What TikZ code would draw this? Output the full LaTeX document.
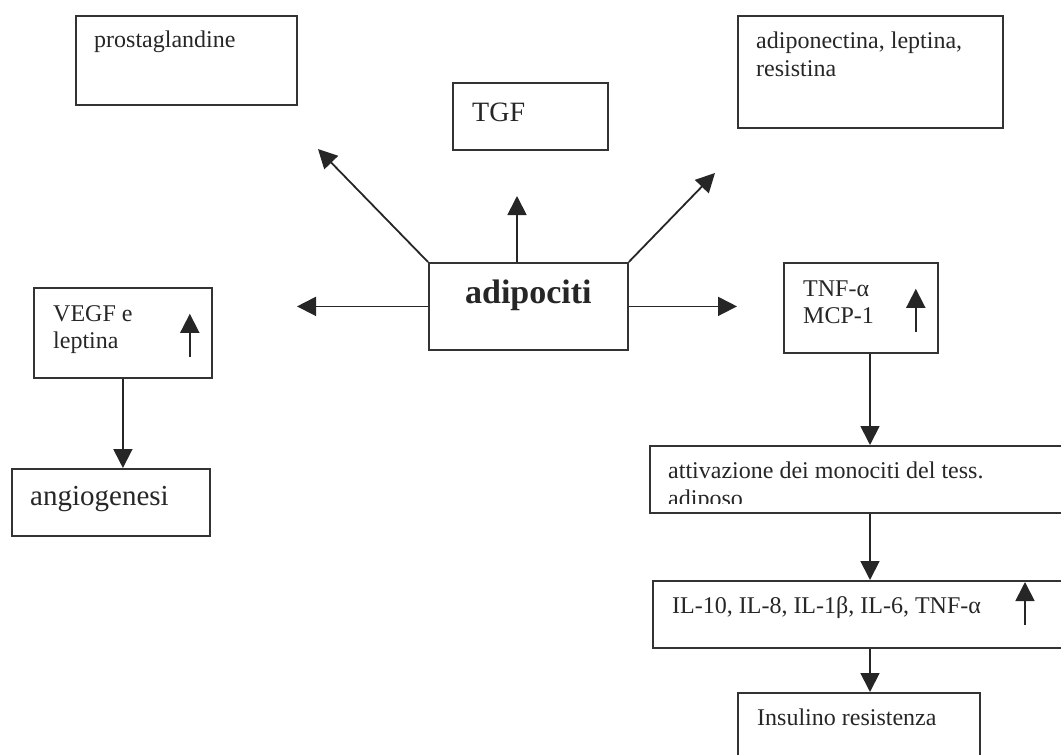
\documentclass[tikz,border=0pt]{standalone}
\usepackage{fontspec}
\setmainfont{Liberation Serif}
\usetikzlibrary{arrows.meta,positioning}

\tikzset{
box/.style = {draw=black!80, line width=1.8pt, rectangle, inner sep=0pt, anchor=north west},
lbl/.style = {anchor=base west, inner sep=0pt, text=black!85, align=left, font=\fontsize{24}{28}\selectfont},
flow/.style = {draw=black!85, line width=1.8pt, -{Triangle[length=19pt,width=19pt]}}}

\begin{document}
\begin{tikzpicture}[x=1pt, y=-1pt]
\clip (0,0) rectangle (1061,755);

% boxes
\node[box, minimum width=221, minimum height=89] (prost) at (75,15) {};
\node[box, minimum width=155, minimum height=67] (tgf) at (452,82) {};
\node[box, minimum width=265, minimum height=112] (adipo) at (737,15) {};
\node[box, minimum width=199, minimum height=87] (adip) at (428,262) {};
\node[box, minimum width=178, minimum height=90] (vegf) at (33,287) {};
\node[box, minimum width=198, minimum height=67] (angio) at (11,468) {};
\node[box, minimum width=154, minimum height=90] (tnf) at (783,262) {};
\node[box, minimum width=430, minimum height=67] (attiv) at (649,445) {};
\node[box, minimum width=430, minimum height=67] (il) at (652,580) {};
\node[box, minimum width=242, minimum height=80] (ins) at (737,692) {};

% texts (base = last line)
\node[lbl] (prostT) at ([shift={(19,32)}]prost.north west) {prostaglandine};
\node[lbl, font=\fontsize{28}{32}\selectfont] (tgfT) at ([shift={(20,39)}]tgf.north west) {TGF};
\node[lbl] (adipoT) at ([shift={(19,61)}]adipo.north west) {adiponectina, leptina,\\resistina};
\node[lbl, anchor=base, font=\fontsize{34}{38}\selectfont\bfseries] (adipT) at ([shift={(0,41)}]adip.north) {adipociti};
\node[lbl, font=\fontsize{24}{27}\selectfont] (vegfT) at ([shift={(20,61)}]vegf.north west) {VEGF e\\leptina};
\node[lbl, font=\fontsize{29}{33}\selectfont] (angioT) at ([shift={(19,37)}]angio.north west) {angiogenesi};
\node[lbl, font=\fontsize{24}{27}\selectfont] (tnfT) at ([shift={(20,61)}]tnf.north west) {TNF-α\\MCP-1};
\begin{scope}
\clip (attiv.north west) rectangle ([yshift=10]attiv.south east);
\node[lbl] (attivT) at ([shift={(19,61)}]attiv.north west) {attivazione dei monociti del tess.\\adiposo};
\end{scope}
\node[lbl] (ilT) at ([shift={(20,33)}]il.north west) {IL-10, IL-8, IL-1β, IL-6, TNF-α};
\node[lbl] (insT) at ([shift={(20,33)}]ins.north west) {Insulino resistenza};

% free ends
\coordinate (prostTip) at (318,149);
\coordinate (tgfTip) at (517,196);
\coordinate (adipoTip) at (715,173);
\coordinate (vegfTip) at (297,0);
\coordinate (tnfTip) at (737,0);
\coordinate (spine) at (870,0);

% arrows
\draw[flow] (adip.north west) -- (prostTip);
\draw[flow] (adip.north -| tgfTip) -- (tgfTip);
\draw[flow] (adip.north east) -- (adipoTip);
\draw[flow] (adip.west) -- (adip.west -| vegfTip);
\draw[flow] (adip.east) -- (adip.east -| tnfTip);
\draw[flow] (vegf.south) -- (vegf.south |- angio.north);
\draw[flow] (tnf.south -| spine) -- (attiv.north -| spine);
\draw[flow] (attiv.south -| spine) -- (il.north -| spine);
\draw[flow] (il.south -| spine) -- (ins.north -| spine);

% small rise arrows
\draw[flow] ([shift={(-23,-22)}]vegf.south east) -- ++(0,-43);
\draw[flow] ([shift={(-23,-22)}]tnf.south east) -- ++(0,-43);
\draw[flow] ([shift={(373,45)}]il.north west) -- ++(0,-43);
\end{tikzpicture}
\end{document}
